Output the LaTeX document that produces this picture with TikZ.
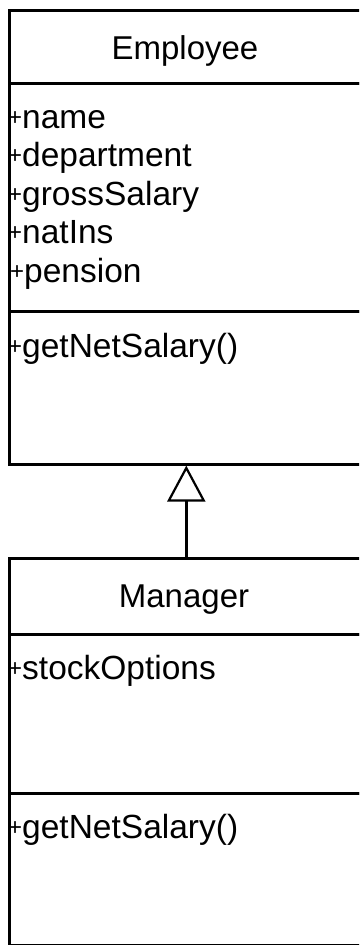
\documentclass[tikz,border=0pt]{standalone}
\usepackage{fontspec}
\setmainfont{Liberation Sans}
\usetikzlibrary{arrows.meta}
\begin{document}
\begin{tikzpicture}[x=1pt,y=-1pt,
  comp/.style={draw, line width=2.6pt, inner sep=0pt, anchor=north west},
  title/.style={anchor=base, inner sep=0pt, font=\fontsize{33}{38}\selectfont},
  member/.style={anchor=base west, inner sep=0pt, font=\fontsize{33.5}{38}\selectfont},
  gen/.style={line width=2.4pt, -{Triangle[open, length=36pt, width=38pt, line width=2.2pt]}}
]
\useasboundingbox (0,0) rectangle (359,945);
\clip (0,0) rectangle (359,945);
\newcommand{\plusm}{\raisebox{3pt}{\fontsize{24}{26}\selectfont+}}
% Employee
\node[comp, minimum width=354pt, minimum height=73pt] (empHead) at (8,9) {};
\node[comp, minimum width=354pt, minimum height=228pt] (empAttr) at (8,82) {};
\node[comp, minimum width=354pt, minimum height=153pt] (empOps) at (8,310) {};
\node[title] (empName) at (185,59) {Employee};
\node[member] (a1) at (8,128) {\plusm name};
\node[member] (a2) at (8,166.5) {\plusm department};
\node[member] (a3) at (8,205) {\plusm grossSalary};
\node[member] (a4) at (8,243.5) {\plusm natIns};
\node[member] (a5) at (10,282) {\plusm pension};
\node[member] (o1) at (8,357) {\plusm getNetSalary()};
% Manager
\node[comp, minimum width=354pt, minimum height=76pt] (mgrHead) at (8,557) {};
\node[comp, minimum width=354pt, minimum height=159pt] (mgrAttr) at (8,633) {};
\node[comp, minimum width=354pt, minimum height=152pt] (mgrOps) at (8,792) {};
\node[title] (mgrName) at (184,607) {Manager};
\node[member] (m1) at (8,679) {\plusm stockOptions};
\node[member] (m2) at (8,838) {\plusm getNetSalary()};
% generalization
\draw[gen] (mgrHead.north) -- (empOps.south);
\end{tikzpicture}
\end{document}
